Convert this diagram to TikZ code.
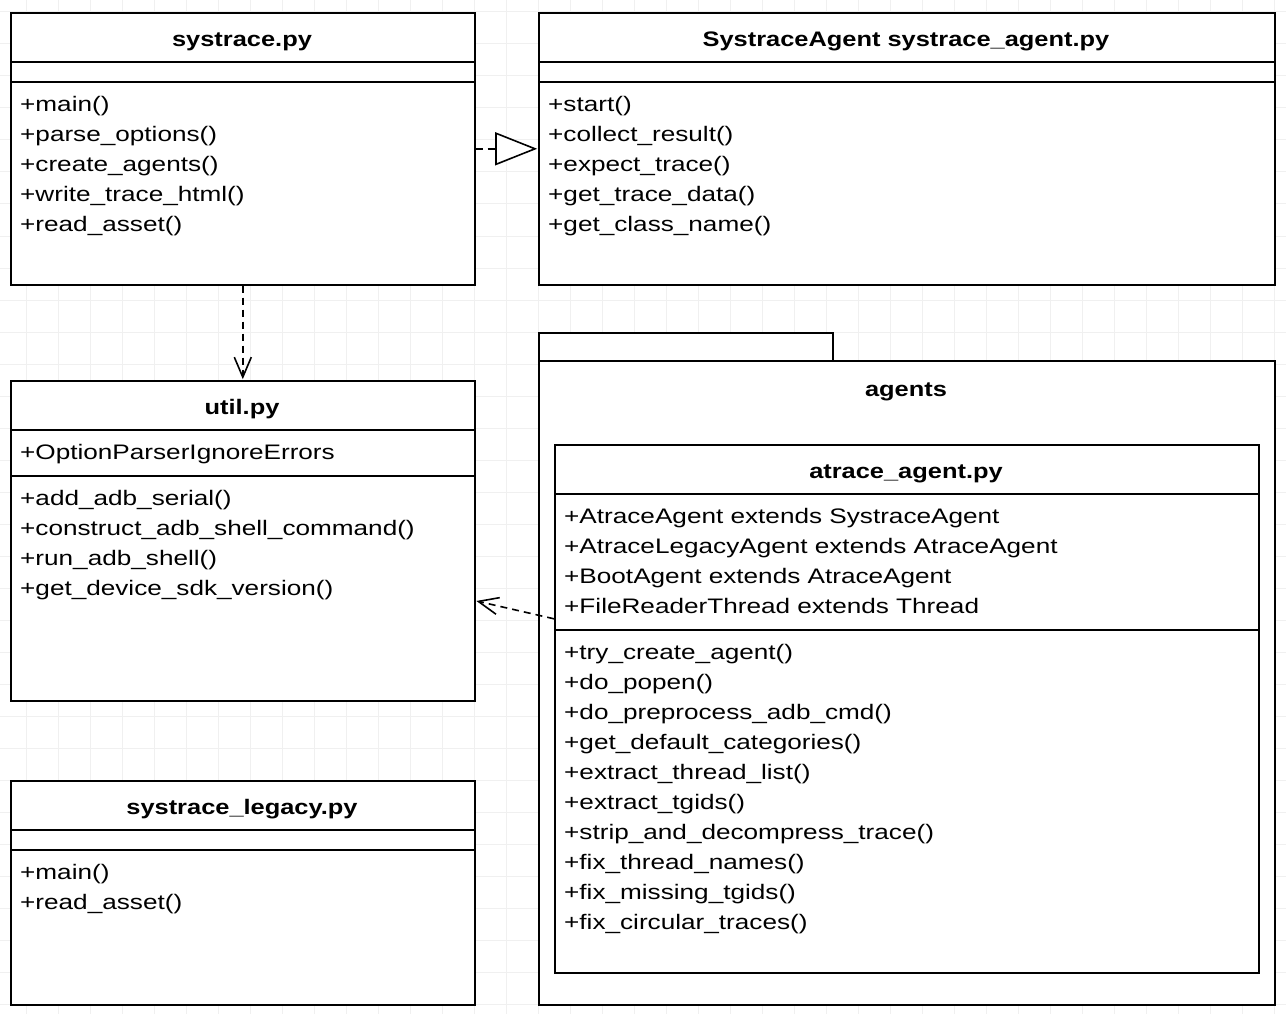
\documentclass[tikz,border=0pt]{standalone}
\usepackage{fontspec}
\setmainfont{Liberation Sans}
\usetikzlibrary{arrows.meta,calc}
\newcommand\sx[1]{\scalebox{1.21}[1]{#1}}
\newcommand\sr[1]{\scalebox{1.245}[1]{#1}}
\definecolor{gridc}{RGB}{240,240,240}
\tikzset{
  box/.style={draw=black, line width=1.6pt, fill=white, anchor=north west, inner sep=0pt, rectangle},
  txt/.style={font=\fontsize{21}{30}\selectfont, inner sep=0pt, anchor=base west},
  hdr/.style={font=\fontsize{21}{30}\selectfont\bfseries, inner sep=0pt, anchor=base},
  sep/.style={line width=1.6pt},
  dep/.style={line width=1.6pt, dash pattern=on 7pt off 5pt},
}
\newcommand\mlines[4]{% prefix, x, first baseline, list
  \foreach \t [count=\i from 0] in {#4} {
    \node[txt] (#1\i) at (#2, #3+30*\i) {\sr{\t}};
  }}
\begin{document}
\begin{tikzpicture}[x=1pt,y=-1pt]
\useasboundingbox (0,0) rectangle (1286,1014);
\fill[white] (0,0) rectangle (1286,1014);
% grid
\foreach \gx in {26,58,...,1286} \draw[gridc, line width=1pt] (\gx,0) -- (\gx,1014);
\foreach \gy in {12,44,...,1014} \draw[gridc, line width=1pt] (0,\gy) -- (1286,\gy);

% systrace.py
\node[box, minimum width=464pt, minimum height=272pt] (sys) at (10,12) {};
\draw[sep] (10,62) -- (474,62);
\draw[sep] (10,82) -- (474,82);
\node[hdr] (syst) at (242,46.5) {\sx{systrace.py}};
\mlines{sysm}{20}{111.5}{+main(),+parse\_options(),+create\_agents(),+write\_trace\_html(),+read\_asset()}

% SystraceAgent
\node[box, minimum width=736pt, minimum height=272pt] (agent) at (538,12) {};
\draw[sep] (538,62) -- (1274,62);
\draw[sep] (538,82) -- (1274,82);
\node[hdr] (agentt) at (906,46.5) {\sx{SystraceAgent systrace\_agent.py}};
\mlines{agm}{548}{111.5}{+start(),+collect\_result(),+expect\_trace(),+get\_trace\_data(),+get\_class\_name()}

% util.py
\node[box, minimum width=464pt, minimum height=320pt] (util) at (10,380) {};
\draw[sep] (10,430) -- (474,430);
\draw[sep] (10,476) -- (474,476);
\node[hdr] (utilt) at (242,414.5) {\sx{util.py}};
\node[txt] (utila) at (20,459.5) {\sr{+OptionParserIgnoreErrors}};
\mlines{utm}{20}{505.5}{+add\_adb\_serial(),+construct\_adb\_shell\_command(),+run\_adb\_shell(),+get\_device\_sdk\_version()}

% systrace_legacy.py
\node[box, minimum width=464pt, minimum height=224pt] (legacy) at (10,780) {};
\draw[sep] (10,830) -- (474,830);
\draw[sep] (10,850) -- (474,850);
\node[hdr] (legt) at (242,814.5) {\sx{systrace\_legacy.py}};
\mlines{lgm}{20}{879.5}{+main(),+read\_asset()}

% agents package
\node[box, minimum width=294pt, minimum height=28pt] (tab) at (538,332) {};
\node[box, minimum width=736pt, minimum height=644pt] (pkg) at (538,360) {};
\node[hdr] (pkgt) at (906,396.5) {\sx{agents}};

% atrace_agent.py
\node[box, minimum width=704pt, minimum height=528pt] (atrace) at (554,444) {};
\draw[sep] (554,494) -- (1258,494);
\draw[sep] (554,630) -- (1258,630);
\node[hdr] (atrt) at (906,478.5) {\sx{atrace\_agent.py}};
\mlines{ata}{564}{523.5}{+AtraceAgent extends SystraceAgent,+AtraceLegacyAgent extends AtraceAgent,+BootAgent extends AtraceAgent,+FileReaderThread extends Thread}
\mlines{atm}{564}{659.5}{+try\_create\_agent(),+do\_popen(),+do\_preprocess\_adb\_cmd(),+get\_default\_categories(),+extract\_thread\_list(),+extract\_tgids(),+strip\_and\_decompress\_trace(),+fix\_thread\_names(),+fix\_missing\_tgids(),+fix\_circular\_traces()}

% connectors
\draw[dep, -{Triangle[open, length=42pt, width=33pt, line width=1.6pt, fill=white]}, shorten >=0.8pt] (sys.east) -- (agent.west);
\draw[dep, -{Straight Barb[length=20pt, width=17pt, line width=1.6pt]}, shorten >=0.8pt] (sys.south) -- (util.north);
\draw[dep, -{Straight Barb[length=20pt, width=17pt, line width=1.6pt]}, shorten >=0.8pt] ([yshift=90pt]atrace.west) -- ([yshift=-60pt]util.east);
\end{tikzpicture}
\end{document}
